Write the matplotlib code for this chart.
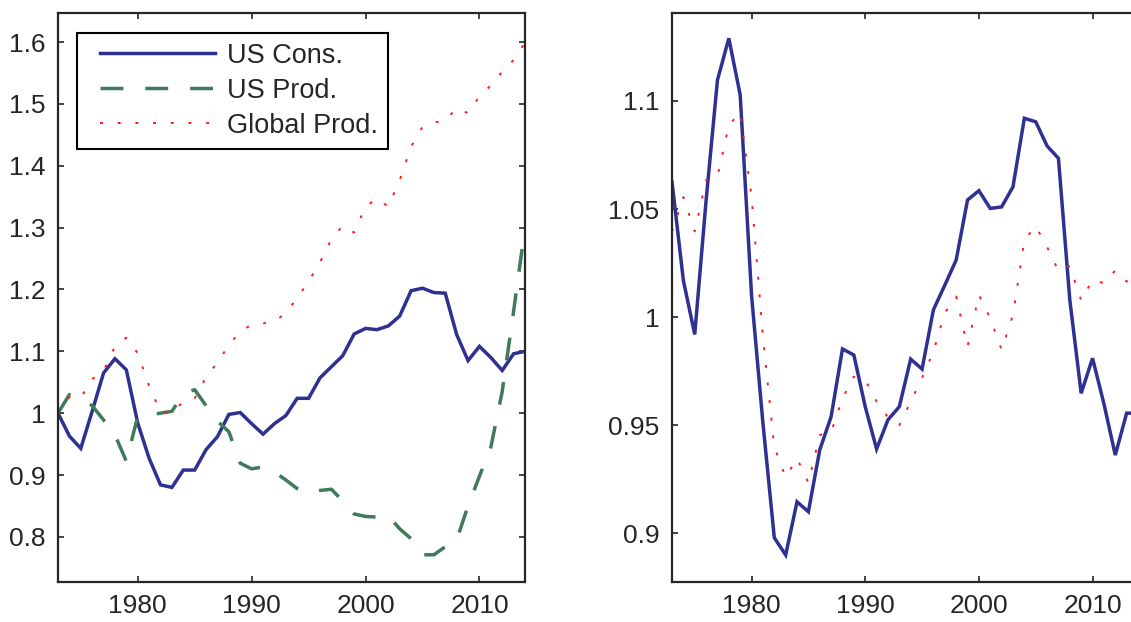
import matplotlib
matplotlib.use("Agg")
import matplotlib.pyplot as plt
from matplotlib.legend_handler import HandlerLine2D

plt.rcParams['font.family'] = ['Liberation Sans', 'DejaVu Sans']

# ---- data -------------------------------------------------------------
years = list(range(1973, 2015))

us_cons = [1.000, 0.963, 0.943, 1.003, 1.065, 1.088, 1.070, 0.984, 0.927, 0.884,
           0.880, 0.908, 0.908, 0.941, 0.962, 0.998, 1.001, 0.983, 0.966, 0.983,
           0.996, 1.024, 1.024, 1.057, 1.075, 1.093, 1.128, 1.137, 1.135, 1.141,
           1.157, 1.198, 1.202, 1.195, 1.194, 1.127, 1.085, 1.108, 1.090, 1.069,
           1.096, 1.100]

us_prod = [1.000, 1.030, 1.025, 1.012, 0.989, 0.965, 0.922, 0.995, 0.997, 1.000,
           1.003, 1.031, 1.038, 1.012, 0.987, 0.970, 0.919, 0.910, 0.913, 0.905,
           0.892, 0.878, 0.871, 0.875, 0.877, 0.858, 0.837, 0.833, 0.832, 0.834,
           0.813, 0.797, 0.771, 0.771, 0.784, 0.795, 0.850, 0.898, 0.945, 1.035,
           1.165, 1.300]

global_prod = [1.000, 1.026, 1.025, 1.055, 1.068, 1.108, 1.122, 1.097, 1.044, 1.002,
               1.000, 1.019, 1.024, 1.058, 1.082, 1.110, 1.132, 1.143, 1.145, 1.148,
               1.162, 1.186, 1.213, 1.244, 1.281, 1.303, 1.292, 1.334, 1.347, 1.334,
               1.377, 1.431, 1.463, 1.470, 1.473, 1.493, 1.485, 1.512, 1.530, 1.552,
               1.571, 1.599]

cons_ratio = [1.0626, 1.0170, 0.9920, 1.0540, 1.1097, 1.1290, 1.1028, 1.0100, 0.9510, 0.8980,
              0.8900, 0.9146, 0.9100, 0.9386, 0.9540, 0.9853, 0.9825, 0.9586, 0.9390, 0.9525,
              0.9586, 0.9806, 0.9760, 1.0034, 1.0148, 1.0264, 1.0542, 1.0585, 1.0503, 1.0510,
              1.0603, 1.0920, 1.0904, 1.0792, 1.0735, 1.0080, 0.9648, 0.9810, 0.9600, 0.9362,
              0.9556, 0.9556]

prod_ratio = [1.0395, 1.0555, 1.0397, 1.0634, 1.0650, 1.0889, 1.0946, 1.0557, 0.9910, 0.9400,
              0.9260, 0.9347, 0.9234, 0.9455, 0.9468, 0.9625, 0.9725, 0.9710, 0.9610, 0.9537,
              0.9500, 0.9610, 0.9718, 0.9840, 1.0020, 1.0095, 0.9864, 1.0103, 0.9995, 0.9849,
              1.0010, 1.0356, 1.0421, 1.0325, 1.0214, 1.0237, 1.0077, 1.0173, 1.0157, 1.0216,
              1.0165, 1.0190]

labels = ["US Cons.", "US Prod.", "Global Prod."]
left_yticks = [0.8, 0.9, 1.0, 1.1, 1.2, 1.3, 1.4, 1.5, 1.6]
right_yticks = [0.9, 0.95, 1.0, 1.05, 1.1]
xticks = [1980, 1990, 2000, 2010]

# ---- styling ----------------------------------------------------------
BLUE = "#2E3192"
GREEN = "#407A5A"
RED = "#FF1A1A"
INK = "#262626"
FS = 19
LEG_FS = 19.5

W, H = 1131, 622
fig = plt.figure(figsize=(W / 100, H / 100), dpi=100)
ax1 = fig.add_axes([58 / W, 40 / H, 467 / W, 569 / H])
ax2 = fig.add_axes([672 / W, 40 / H, 466 / W, 569 / H])

solid_kw = dict(color=BLUE, lw=2.5, solid_joinstyle="miter")
dash_kw = dict(color=GREEN, lw=2.5, linestyle=(0, (6.6, 6.3)), dash_capstyle="butt")
dot_kw = dict(color=RED, lw=1.4, linestyle=(0, (1.5, 7.6)), dash_capstyle="butt")

l1, = ax1.plot(years, us_cons, **solid_kw)
l2, = ax1.plot(years, us_prod, **dash_kw)
l3, = ax1.plot(years, global_prod, **dot_kw)

ax2.plot(years, cons_ratio, **solid_kw)
ax2.plot(years, prod_ratio, **dot_kw)

ax1.set_xlim(1973, 2014)
ax1.set_ylim(0.727, 1.647)
ax2.set_xlim(1973, 2014)
ax2.set_ylim(0.8775, 1.1407)

ax1.set_yticks(left_yticks)
ax1.set_yticklabels([f"{v:g}" for v in left_yticks])
ax2.set_yticks(right_yticks)
ax2.set_yticklabels([f"{v:g}" for v in right_yticks])

for ax in (ax1, ax2):
    ax.set_xticks(xticks)
    ax.set_xticklabels([str(v) for v in xticks])
    ax.tick_params(direction="in", top=True, right=True, length=4, width=1.2,
                   colors=INK, labelsize=FS)
    ax.tick_params(axis="x", pad=8.5)
    ax.tick_params(axis="y", pad=9)
    for sp in ax.spines.values():
        sp.set_linewidth(1.6)
        sp.set_color(INK)

hmap = {h: HandlerLine2D(xpad=0.5) for h in (l1, l2, l3)}
leg = ax1.legend([l1, l2, l3], labels, loc="upper left",
                 bbox_to_anchor=(0.040, 0.9654), borderaxespad=0,
                 fontsize=LEG_FS, frameon=True, fancybox=False, framealpha=1,
                 edgecolor="black", borderpad=0.37, labelspacing=0.33,
                 handlelength=4.75, handletextpad=0.42, handler_map=hmap)
leg.get_frame().set_linewidth(1.5)
for t in leg.get_texts():
    t.set_color(INK)

fig.savefig("out.png", dpi=100)
